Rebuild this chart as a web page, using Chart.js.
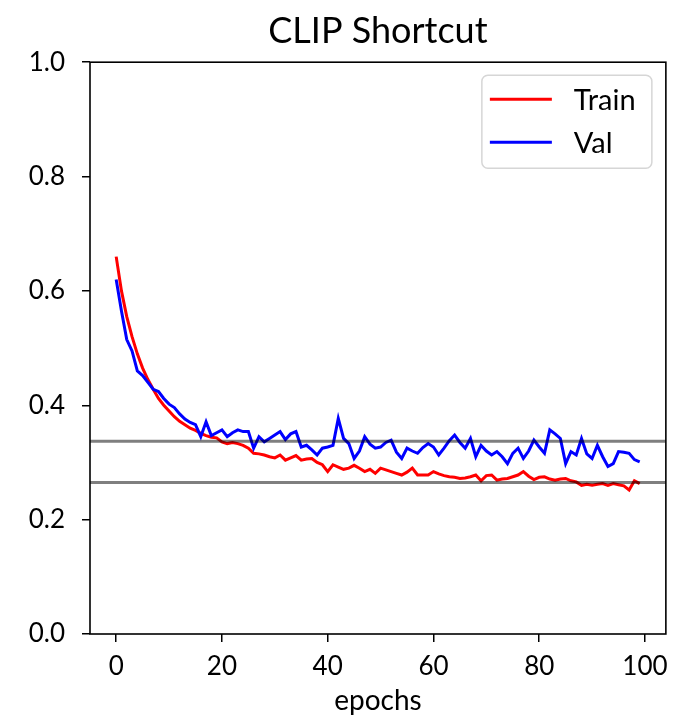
<!DOCTYPE html>
<html>
<head>
<meta charset="utf-8">
<title>CLIP Shortcut</title>
<script src="https://cdn.jsdelivr.net/npm/chart.js@4.4.1/dist/chart.umd.min.js"></script>
<style>
  html, body { margin: 0; padding: 0; background: #ffffff; }
  #wrap { width: 677px; height: 721px; }
</style>
</head>
<body>
<div id="wrap"><canvas id="chart" width="677" height="721"></canvas></div>
<script>
// Loss per epoch for the CLIP shortcut run
const epochs = Array.from({ length: 100 }, (_, i) => i);

const trainLoss = [
  0.660, 0.600, 0.555, 0.520, 0.490, 0.465, 0.445, 0.428, 0.412, 0.400,
  0.390, 0.380, 0.372, 0.366, 0.360, 0.356, 0.351, 0.347, 0.344, 0.343,
  0.336, 0.333, 0.335, 0.333, 0.330, 0.325, 0.316, 0.315, 0.313, 0.310,
  0.308, 0.313, 0.304, 0.308, 0.312, 0.304, 0.306, 0.307, 0.300, 0.296,
  0.284, 0.296, 0.292, 0.288, 0.290, 0.295, 0.290, 0.284, 0.288, 0.281,
  0.290, 0.287, 0.284, 0.281, 0.278, 0.283, 0.290, 0.278, 0.278, 0.278,
  0.284, 0.280, 0.277, 0.275, 0.274, 0.272, 0.273, 0.275, 0.278, 0.268,
  0.277, 0.278, 0.269, 0.271, 0.272, 0.275, 0.278, 0.284, 0.276, 0.270,
  0.274, 0.275, 0.271, 0.269, 0.271, 0.272, 0.268, 0.266, 0.260, 0.262,
  0.260, 0.262, 0.263, 0.260, 0.263, 0.261, 0.259, 0.252, 0.268, 0.263
];

const valLoss = [
  0.620, 0.565, 0.515, 0.495, 0.460, 0.452, 0.440, 0.428, 0.424, 0.412,
  0.402, 0.396, 0.385, 0.376, 0.370, 0.366, 0.345, 0.371, 0.347, 0.352,
  0.357, 0.345, 0.352, 0.357, 0.354, 0.354, 0.325, 0.345, 0.336, 0.342,
  0.348, 0.354, 0.340, 0.350, 0.354, 0.327, 0.330, 0.322, 0.313, 0.325,
  0.327, 0.330, 0.377, 0.342, 0.333, 0.307, 0.320, 0.345, 0.332, 0.325,
  0.327, 0.335, 0.339, 0.318, 0.307, 0.325, 0.320, 0.316, 0.326, 0.333,
  0.327, 0.313, 0.325, 0.338, 0.348, 0.335, 0.325, 0.342, 0.310, 0.330,
  0.320, 0.313, 0.319, 0.310, 0.298, 0.316, 0.325, 0.307, 0.320, 0.339,
  0.327, 0.316, 0.357, 0.350, 0.342, 0.298, 0.319, 0.313, 0.342, 0.315,
  0.307, 0.330, 0.310, 0.293, 0.298, 0.319, 0.318, 0.316, 0.305, 0.301
];

// Horizontal reference levels
const refLevels = [0.337, 0.265];

// Axis ticks
const xTicks = [0, 20, 40, 60, 80, 100];
const yTicks = [0.0, 0.2, 0.4, 0.6, 0.8, 1.0];

// Matplotlib-style 5% margins around the epoch range
const xMin = epochs[0] - 0.05 * (epochs[epochs.length - 1] - epochs[0]);
const xMax = epochs[epochs.length - 1] + 0.05 * (epochs[epochs.length - 1] - epochs[0]);

const FONT = 'Lato, "Open Sans", "DejaVu Sans", sans-serif';
const toPoints = arr => arr.map((v, i) => ({ x: epochs[i], y: v }));

// Reference lines are drawn above both curves (lowest order = topmost)
const refDatasets = refLevels.map(v => ({
  label: '_ref',
  data: [{ x: xMin, y: v }, { x: xMax, y: v }],
  borderColor: 'rgba(0,0,0,0.5)',
  borderWidth: 3,
  pointRadius: 0,
  order: -1
}));

// Frame around the plot area (all four spines)
const framePlugin = {
  id: 'frame',
  afterDatasetsDraw(chart) {
    const { ctx, chartArea: a } = chart;
    ctx.save();
    ctx.strokeStyle = '#000';
    ctx.lineWidth = 1.6;
    ctx.strokeRect(a.left, a.top, a.right - a.left, a.bottom - a.top);
    ctx.restore();
  }
};

// Boxed legend in the upper-right corner of the plot
const boxLegendPlugin = {
  id: 'boxLegend',
  afterDraw(chart) {
    const { ctx, chartArea: a } = chart;
    const items = chart.data.datasets.filter(d => d.label !== '_ref');
    const w = 170, h = 93;
    const x0 = a.right - 14 - w, y0 = a.top + 13;
    ctx.save();
    ctx.beginPath();
    ctx.roundRect(x0, y0, w, h, 6);
    ctx.fillStyle = 'rgba(255,255,255,0.8)';
    ctx.fill();
    ctx.strokeStyle = '#d6d6d6';
    ctx.lineWidth = 1.5;
    ctx.stroke();
    ctx.font = '29px ' + FONT;
    ctx.textBaseline = 'middle';
    ctx.textAlign = 'left';
    items.forEach((d, i) => {
      const yy = y0 + 24 + i * 43;
      ctx.beginPath();
      ctx.moveTo(x0 + 8, yy);
      ctx.lineTo(x0 + 70, yy);
      ctx.strokeStyle = d.borderColor;
      ctx.lineWidth = 3;
      ctx.stroke();
      ctx.fillStyle = '#000';
      ctx.fillText(d.label, x0 + 92, yy + 1);
    });
    ctx.restore();
  }
};

new Chart(document.getElementById('chart'), {
  type: 'line',
  data: {
    datasets: [
      {
        label: 'Train',
        data: toPoints(trainLoss),
        borderColor: '#ff0000',
        borderWidth: 3,
        pointRadius: 0,
        tension: 0,
        order: 1
      },
      {
        label: 'Val',
        data: toPoints(valLoss),
        borderColor: '#0000ff',
        borderWidth: 3,
        pointRadius: 0,
        tension: 0,
        order: 0
      },
      ...refDatasets
    ]
  },
  options: {
    responsive: false,
    animation: false,
    devicePixelRatio: 1,
    layout: { padding: { left: 0, right: 10, top: 0, bottom: 0 } },
    plugins: {
      legend: { display: false },
      tooltip: { enabled: false },
      title: {
        display: true,
        fullSize: false,
        text: 'CLIP Shortcut',
        color: '#000',
        font: { family: FONT, size: 36, weight: 'normal' },
        padding: { top: 10, bottom: 9 }
      }
    },
    scales: {
      x: {
        type: 'linear',
        min: xMin,
        max: xMax,
        afterBuildTicks: s => { s.ticks = xTicks.map(v => ({ value: v })); },
        afterFit: s => { s.height = 87; },
        border: { display: false },
        grid: { drawOnChartArea: false, drawTicks: true, tickLength: 8, color: '#000', lineWidth: 1.5 },
        ticks: {
          color: '#000',
          padding: 9,
          maxRotation: 0,
          font: { family: FONT, size: 26 },
          callback: v => String(v)
        },
        title: {
          display: true,
          text: 'epochs',
          color: '#000',
          font: { family: FONT, size: 28 },
          padding: { top: 0, bottom: 3 }
        }
      },
      y: {
        type: 'linear',
        min: 0,
        max: 1,
        afterBuildTicks: s => { s.ticks = yTicks.map(v => ({ value: v })); },
        afterFit: s => { s.width = 90; },
        border: { display: false },
        grid: { drawOnChartArea: false, drawTicks: true, tickLength: 8, color: '#000', lineWidth: 1.5 },
        ticks: {
          color: '#000',
          padding: 17,
          font: { family: FONT, size: 26 },
          callback: v => v.toFixed(1)
        }
      }
    }
  },
  plugins: [framePlugin, boxLegendPlugin]
});
</script>
</body>
</html>
